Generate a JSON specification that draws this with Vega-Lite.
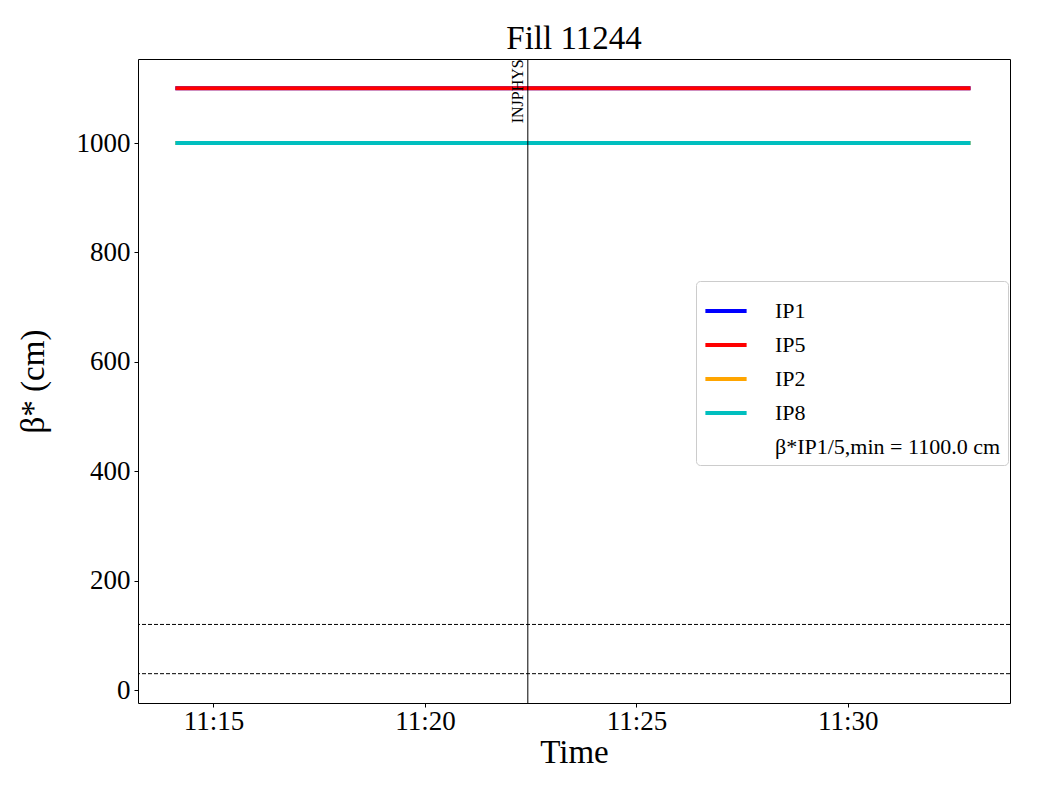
{
  "$schema": "https://vega.github.io/schema/vega-lite/v6.json",
  "width": 872,
  "height": 644,
  "padding": {"left": 138, "top": 59, "right": 30, "bottom": 97},
  "autosize": {"type": "none"},
  "background": "white",
  "title": {"text": "Fill 11244", "font": "Liberation Serif", "fontSize": 33, "fontWeight": "normal", "color": "black", "offset": 3},
  "config": {
    "font": "Liberation Serif",
    "view": {"stroke": "black", "strokeWidth": 1},
    "axis": {"grid": false, "domain": false, "tickColor": "black", "tickSize": 4, "labelColor": "black", "titleColor": "black", "labelFont": "Liberation Serif", "titleFont": "Liberation Serif", "labelFontSize": 27, "titleFontSize": 33, "titleFontWeight": "normal"}
  },
  "datasets": {
    "beta": [
      {"time": "2024-01-01T11:14:06", "ip": "IP1", "beta": 1100},
      {"time": "2024-01-01T11:32:54", "ip": "IP1", "beta": 1100},
      {"time": "2024-01-01T11:14:06", "ip": "IP5", "beta": 1100},
      {"time": "2024-01-01T11:32:54", "ip": "IP5", "beta": 1100},
      {"time": "2024-01-01T11:14:06", "ip": "IP2", "beta": 1000},
      {"time": "2024-01-01T11:32:54", "ip": "IP2", "beta": 1000},
      {"time": "2024-01-01T11:14:06", "ip": "IP8", "beta": 1000},
      {"time": "2024-01-01T11:32:54", "ip": "IP8", "beta": 1000}
    ],
    "hlines": [{"y": 30}, {"y": 120}],
    "modes": [{"time": "2024-01-01T11:22:26", "mode": "INJPHYS", "top": 1153}]
  },
  "layer": [
    {
      "data": {"name": "beta"},
      "mark": {"type": "line", "strokeWidth": 4, "clip": true},
      "encoding": {
        "x": {"field": "time", "type": "temporal",
              "scale": {"domain": [{"year": 2024, "month": 1, "date": 1, "hours": 11, "minutes": 13, "seconds": 13}, {"year": 2024, "month": 1, "date": 1, "hours": 11, "minutes": 33, "seconds": 50}]},
              "axis": {"title": "Time", "format": "%H:%M", "labelPadding": 1, "titlePadding": 2,
                       "values": [{"year": 2024, "month": 1, "date": 1, "hours": 11, "minutes": 15}, {"year": 2024, "month": 1, "date": 1, "hours": 11, "minutes": 20}, {"year": 2024, "month": 1, "date": 1, "hours": 11, "minutes": 25}, {"year": 2024, "month": 1, "date": 1, "hours": 11, "minutes": 30}]}},
        "y": {"field": "beta", "type": "quantitative",
              "scale": {"domain": [-23.6, 1153.6], "nice": false, "zero": false},
              "axis": {"title": "β* (cm)", "format": "d", "values": [0, 200, 400, 600, 800, 1000], "labelPadding": 4, "titlePadding": 26}},
        "color": {"field": "ip", "type": "nominal",
                  "scale": {"domain": ["IP1", "IP5", "IP2", "IP8", "β*IP1/5,min = 1100.0 cm"], "range": ["#0000ff", "#ff0000", "#ffa500", "#00bfbf", "rgba(0,0,0,0)"]},
                  "legend": {"title": null, "orient": "none", "legendX": 558, "legendY": 222, "symbolType": "stroke", "symbolStrokeWidth": 4, "symbolSize": 1700, "labelFontSize": 22, "labelFont": "Liberation Serif", "labelColor": "black", "labelLimit": 400, "labelOffset": 26, "rowPadding": -6, "padding": 7, "strokeColor": "#cccccc", "fillColor": "white", "cornerRadius": 4}},
        "order": {"field": "ip", "type": "nominal"}
      }
    },
    {
      "data": {"name": "hlines"},
      "mark": {"type": "rule", "color": "black", "strokeWidth": 1, "strokeDash": [4, 2]},
      "encoding": {"y": {"field": "y", "type": "quantitative"}}
    },
    {
      "data": {"name": "modes"},
      "mark": {"type": "rule", "color": "black", "strokeWidth": 1},
      "encoding": {"x": {"field": "time", "type": "temporal"}}
    },
    {
      "data": {"name": "modes"},
      "mark": {"type": "text", "angle": 270, "align": "right", "baseline": "bottom", "fontSize": 16, "font": "Liberation Serif", "color": "black", "dy": -2},
      "encoding": {
        "x": {"field": "time", "type": "temporal"},
        "y": {"field": "top", "type": "quantitative"},
        "text": {"field": "mode"}
      }
    }
  ]
}
